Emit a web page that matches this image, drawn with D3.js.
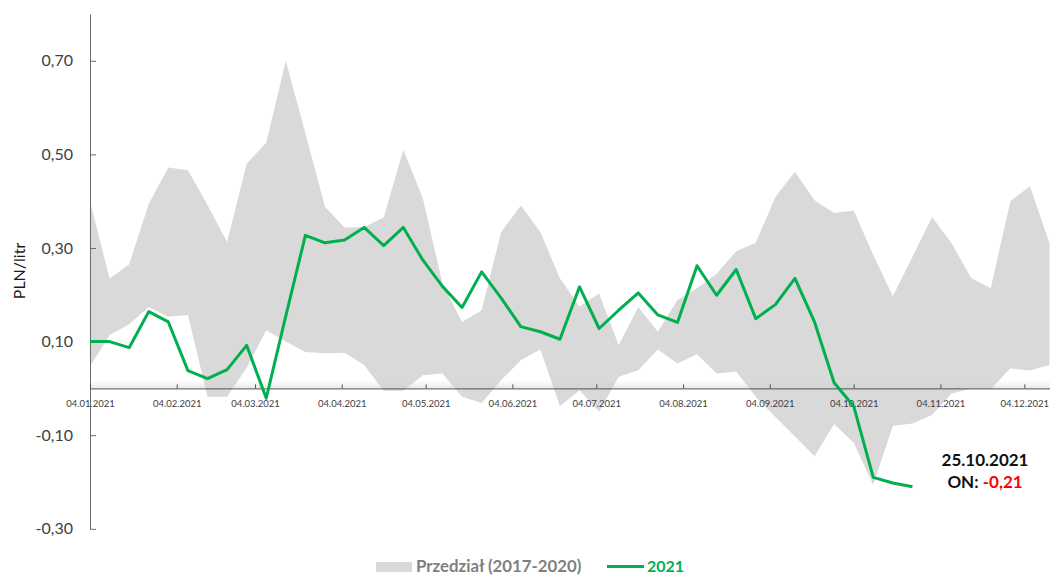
<!DOCTYPE html>
<html>
<head>
<meta charset="utf-8">
<script src="https://cdn.jsdelivr.net/npm/d3@7/dist/d3.min.js"></script>
<style>
  html, body { margin: 0; padding: 0; background: #fff; }
  svg { display: block; font-family: Lato, "Open Sans", sans-serif; }
</style>
</head>
<body>
<svg id="chart" width="1050" height="576"></svg>
<script>
// Weekly observation dates (Mondays)
const weeks = [
  "2021-01-04","2021-01-11","2021-01-18","2021-01-25",
  "2021-02-01","2021-02-08","2021-02-15","2021-02-22",
  "2021-03-01","2021-03-08","2021-03-15","2021-03-22","2021-03-29",
  "2021-04-05","2021-04-12","2021-04-19","2021-04-26",
  "2021-05-03","2021-05-10","2021-05-17","2021-05-24","2021-05-31",
  "2021-06-07","2021-06-14","2021-06-21","2021-06-28",
  "2021-07-05","2021-07-12","2021-07-19","2021-07-26",
  "2021-08-02","2021-08-09","2021-08-16","2021-08-23","2021-08-30",
  "2021-09-06","2021-09-13","2021-09-20","2021-09-27",
  "2021-10-04","2021-10-11","2021-10-18","2021-10-25",
  "2021-11-01","2021-11-08","2021-11-15","2021-11-22","2021-11-29",
  "2021-12-06","2021-12-13"
];

// Range 2017-2020: upper and lower bound (PLN/litr)
const rangeMax = [
  0.40, 0.235, 0.265, 0.394, 0.472, 0.466, 0.392, 0.313,
  0.48, 0.525, 0.70, 0.545, 0.388,
  0.344, 0.345, 0.365, 0.51,
  0.406, 0.224, 0.142, 0.167, 0.334,
  0.391, 0.334, 0.235, 0.175,
  0.203, 0.092, 0.174, 0.121,
  0.189, 0.214, 0.245, 0.293, 0.311,
  0.409, 0.463, 0.402, 0.375,
  0.38, 0.285, 0.197, 0.281,
  0.366, 0.310, 0.236, 0.214, 0.400,
  0.432, 0.310
];
const rangeMin = [
  0.047, 0.114, 0.137, 0.174, 0.153, 0.157, -0.018, -0.018,
  0.044, 0.124, 0.10, 0.078, 0.075,
  0.076, 0.05, -0.005, -0.005,
  0.028, 0.032, -0.018, -0.031, 0.018,
  0.06, 0.083, -0.038, -0.004,
  -0.05, 0.025, 0.039, 0.083,
  0.053, 0.073, 0.032, 0.036, -0.018,
  -0.061, -0.103, -0.145, -0.076,
  -0.116, -0.206, -0.08, -0.075,
  -0.057, -0.011, 0.0, -0.002, 0.043,
  0.038, 0.05
];

// 2021 values
const values2021 = [
  0.10, 0.10, 0.087, 0.164, 0.142, 0.038, 0.021, 0.040,
  0.092, -0.021, 0.155, 0.327, 0.311,
  0.317, 0.344, 0.305, 0.344,
  0.274, 0.218, 0.173, 0.249, 0.193,
  0.132, 0.121, 0.105, 0.217,
  0.128, 0.167, 0.204, 0.157,
  0.141, 0.262, 0.199, 0.254, 0.149,
  0.179, 0.235, 0.142, 0.012,
  -0.038, -0.190, -0.202, -0.21
];

const monthTicks = [
  "2021-01-04","2021-02-04","2021-03-04","2021-04-04","2021-05-04","2021-06-04",
  "2021-07-04","2021-08-04","2021-09-04","2021-10-04","2021-11-04","2021-12-04"
];
const yTicks = [-0.30, -0.10, 0.10, 0.30, 0.50, 0.70];

const legendLabels = ["Przedział (2017-2020)", "2021"];
const noteDate = "25.10.2021";
const noteLabel = "ON: ";
const noteValue = values2021[values2021.length - 1];

const parse = d3.utcParse("%Y-%m-%d");
const dates = weeks.map(parse);

const pl = d3.formatLocale({ decimal: ",", thousands: " ", grouping: [3], currency: ["", " zł"], minus: "-" });
const fmtY = pl.format(".2f");
const fmtX = d3.utcFormat("%d.%m.%Y");

const svg = d3.select("#chart");

const x = d3.scaleUtc().domain([dates[0], dates[dates.length - 1]]).range([90, 1049.5]);
const y = d3.scaleLinear().domain([-0.30, 0.80]).range([528.8, 14]);

const COLORS = { band: "#d9d9d9", line: "#00b050", axis: "#6b6b6b", text: "#404040", red: "#ff0000" };

// soft shading just above the zero line
const defs = svg.append("defs");
const grad = defs.append("linearGradient").attr("id", "zeroShade").attr("x1", 0).attr("y1", 0).attr("x2", 0).attr("y2", 1);
grad.append("stop").attr("offset", "0%").attr("stop-color", "#cfcfcf").attr("stop-opacity", 0);
grad.append("stop").attr("offset", "100%").attr("stop-color", "#cfcfcf").attr("stop-opacity", 0.45);

// band 2017-2020
const bandData = dates.map((d, i) => ({ d, lo: rangeMin[i], hi: rangeMax[i] }));
svg.append("path")
  .datum(bandData)
  .attr("fill", COLORS.band)
  .attr("d", d3.area().x(p => x(p.d)).y0(p => y(p.lo)).y1(p => y(p.hi)));

svg.append("rect")
  .attr("x", x.range()[0]).attr("y", y(0) - 8)
  .attr("width", 1050 - x.range()[0]).attr("height", 8)
  .attr("fill", "url(#zeroShade)");

// y axis
const yAxis = svg.append("g")
  .attr("transform", `translate(${x.range()[0]},0)`)
  .call(d3.axisLeft(y).tickValues(yTicks).tickFormat(fmtY).tickSizeInner(-6).tickSizeOuter(0).tickPadding(17));
yAxis.select(".domain").attr("stroke", COLORS.axis);
yAxis.selectAll(".tick line").attr("stroke", COLORS.axis);
yAxis.selectAll(".tick text").attr("fill", COLORS.text).style("font-size", "16px").style("font-family", "Lato, sans-serif");

// x axis at zero
const xAxis = svg.append("g")
  .attr("transform", `translate(0,${y(0)})`)
  .call(d3.axisBottom(x).tickValues(monthTicks.map(parse)).tickFormat(fmtX).tickSizeInner(-4).tickSizeOuter(0).tickPadding(12));
xAxis.select(".domain").attr("stroke", "#505050").attr("d", `M${x.range()[0]},0.5H1050`);
xAxis.selectAll(".tick line").attr("stroke", "#505050");
xAxis.selectAll(".tick text").attr("fill", COLORS.text).style("font-size", "9.5px").style("font-family", "Lato, sans-serif");

// y title
svg.append("text")
  .attr("transform", "translate(25,271) rotate(-90)")
  .attr("text-anchor", "middle")
  .attr("fill", "#1a1a1a")
  .style("font-size", "16px")
  .text("PLN/litr");

// 2021 line
const lineData = values2021.map((v, i) => ({ d: dates[i], v }));
svg.append("path")
  .datum(lineData)
  .attr("fill", "none")
  .attr("stroke", COLORS.line)
  .attr("stroke-width", 3)
  .attr("stroke-linejoin", "round")
  .attr("d", d3.line().x(p => x(p.d)).y(p => y(p.v)));

// annotation
const note = svg.append("g").attr("text-anchor", "middle").style("font-weight", "700").style("font-size", "17px");
note.append("text").attr("x", 985).attr("y", 466).attr("fill", "#111").text(noteDate);
const t2 = note.append("text").attr("x", 985).attr("y", 488).attr("fill", "#111");
t2.append("tspan").text(noteLabel);
t2.append("tspan").attr("fill", COLORS.red).text(fmtY(noteValue));

// legend
const legend = svg.append("g").style("font-weight", "700");
legend.append("rect").attr("x", 376).attr("y", 562).attr("width", 36).attr("height", 10).attr("fill", COLORS.band);
legend.append("text").attr("x", 416).attr("y", 572).attr("fill", "#7f7f7f").style("font-size", "16.8px").text(legendLabels[0]);
legend.append("line").attr("x1", 607).attr("x2", 644).attr("y1", 566.5).attr("y2", 566.5)
  .attr("stroke", COLORS.line).attr("stroke-width", 3);
legend.append("text").attr("x", 647).attr("y", 572).attr("fill", COLORS.line).style("font-size", "16px").text(legendLabels[1]);
</script>
</body>
</html>
